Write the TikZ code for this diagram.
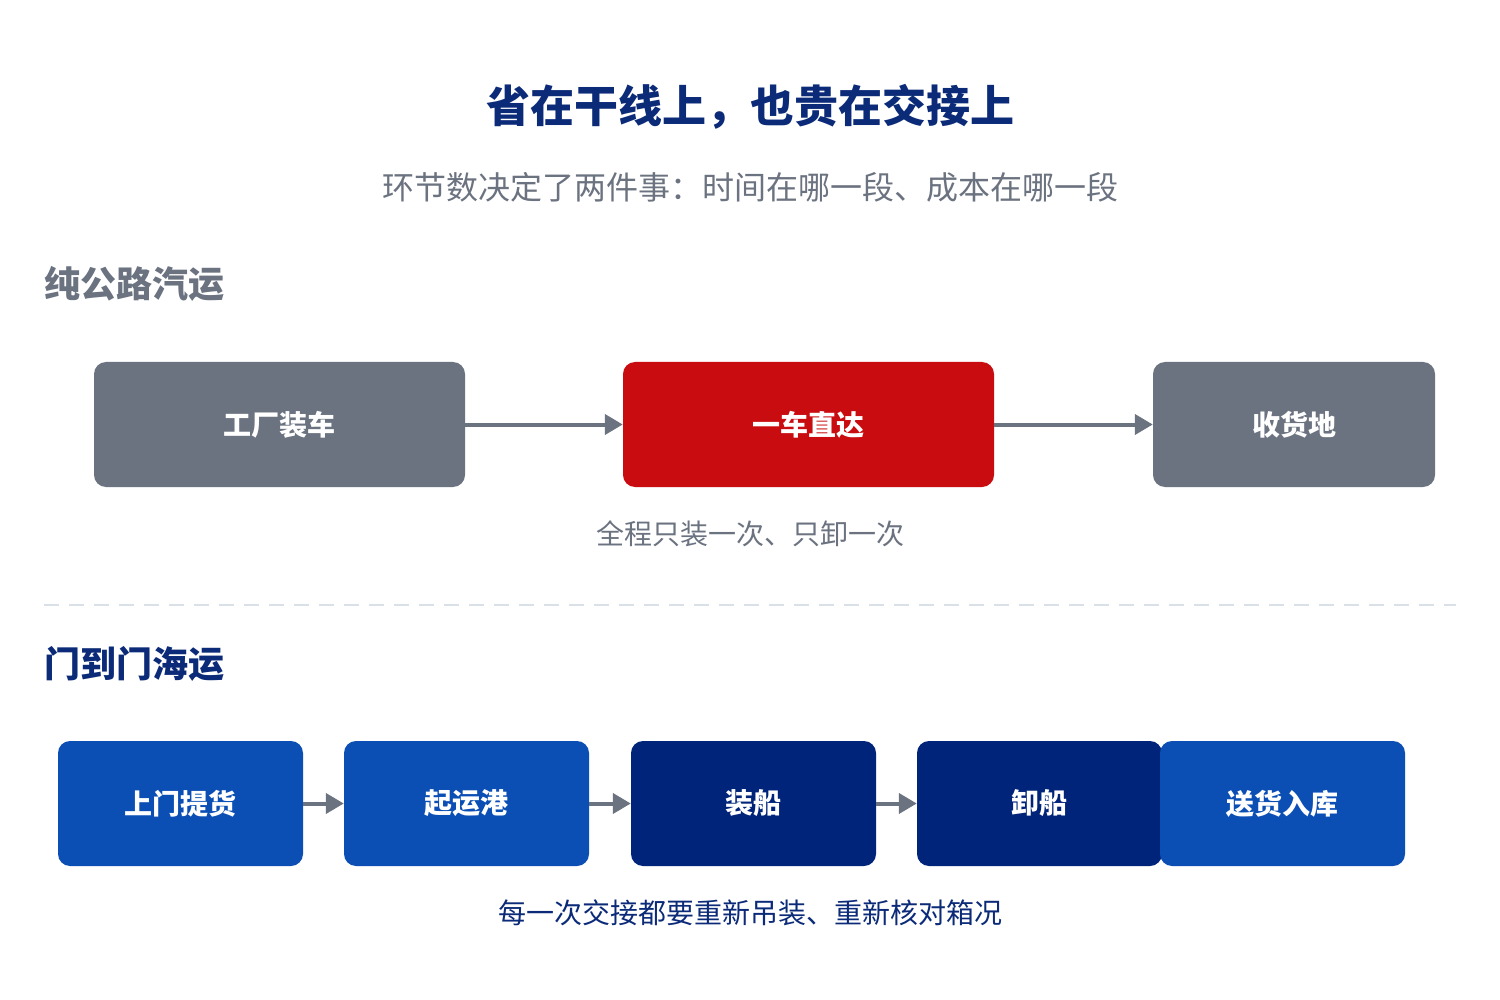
\documentclass[tikz,border=0pt]{standalone}
\usepackage{fontspec}
\setmainfont{Noto Sans CJK SC}
\usetikzlibrary{arrows.meta}
\definecolor{navy}{HTML}{0B2A78}
\definecolor{txtgray}{HTML}{6B7280}
\definecolor{boxgray}{HTML}{6B7280}
\definecolor{boxred}{HTML}{C90C0F}
\definecolor{boxblue}{HTML}{0B4FB5}
\definecolor{boxnavy}{HTML}{00247A}
\definecolor{dashcol}{HTML}{D9E0E8}
\tikzset{
  box/.style={rounded corners=12pt, minimum height=125pt, inner sep=0pt, text=white, font=\fontsize{28}{32}\selectfont\bfseries},
  conn/.style={draw=txtgray, line width=4pt, -{Triangle[length=18pt,width=20pt]}},
}
\begin{document}
\begin{tikzpicture}[x=1pt,y=-1pt]
\useasboundingbox (0,0) rectangle (1500,1000);
\fill[white] (0,0) rectangle (1500,1000);
\node[text=navy, font=\fontsize{44}{50}\selectfont\bfseries] (title) at (750,107) {省在干线上，也贵在交接上};
\node[text=txtgray, font=\fontsize{32}{38}\selectfont] (sub) at (750,187) {环节数决定了两件事：时间在哪一段、成本在哪一段};
\node[anchor=west, inner sep=0pt, text=txtgray, font=\fontsize{36}{40}\selectfont\bfseries] (h1) at (44,284) {纯公路汽运};
% row 1
\node[box, fill=boxgray, minimum width=371pt] (a1) at (279.5,424.5) {工厂装车};
\node[box, fill=boxred, minimum width=371pt] (a2) at (808.5,424.5) {一车直达};
\node[box, fill=boxgray, minimum width=282pt] (a3) at (1294,424.5) {收货地};
\draw[conn] (a1) -- (a2);
\draw[conn] (a2) -- (a3);
\node[text=txtgray, font=\fontsize{28}{32}\selectfont] (c1) at (750,534) {全程只装一次、只卸一次};
% divider
\coordinate (d1) at (44,605);
\coordinate (d2) at (1456,605);
\draw[dashcol, line width=2.5pt, dash pattern=on 15pt off 10pt] (d1) -- (d2);
\node[anchor=west, inner sep=0pt, text=navy, font=\fontsize{36}{40}\selectfont\bfseries] (h2) at (44,664) {门到门海运};
% row 2
\node[box, fill=boxblue, minimum width=245pt] (b1) at (180.5,803.5) {上门提货};
\node[box, fill=boxblue, minimum width=245pt] (b2) at (466.5,803.5) {起运港};
\node[box, fill=boxnavy, minimum width=245pt] (b3) at (753.5,803.5) {装船};
\node[box, fill=boxnavy, minimum width=245pt] (b4) at (1039.5,803.5) {卸船};
\node[box, fill=boxblue, minimum width=245pt] (b5) at (1282.5,803.5) {送货入库};
\draw[conn] (b1) -- (b2);
\draw[conn] (b2) -- (b3);
\draw[conn] (b3) -- (b4);
\node[text=navy, font=\fontsize{28}{32}\selectfont] (c2) at (750,913) {每一次交接都要重新吊装、重新核对箱况};
\end{tikzpicture}
\end{document}
